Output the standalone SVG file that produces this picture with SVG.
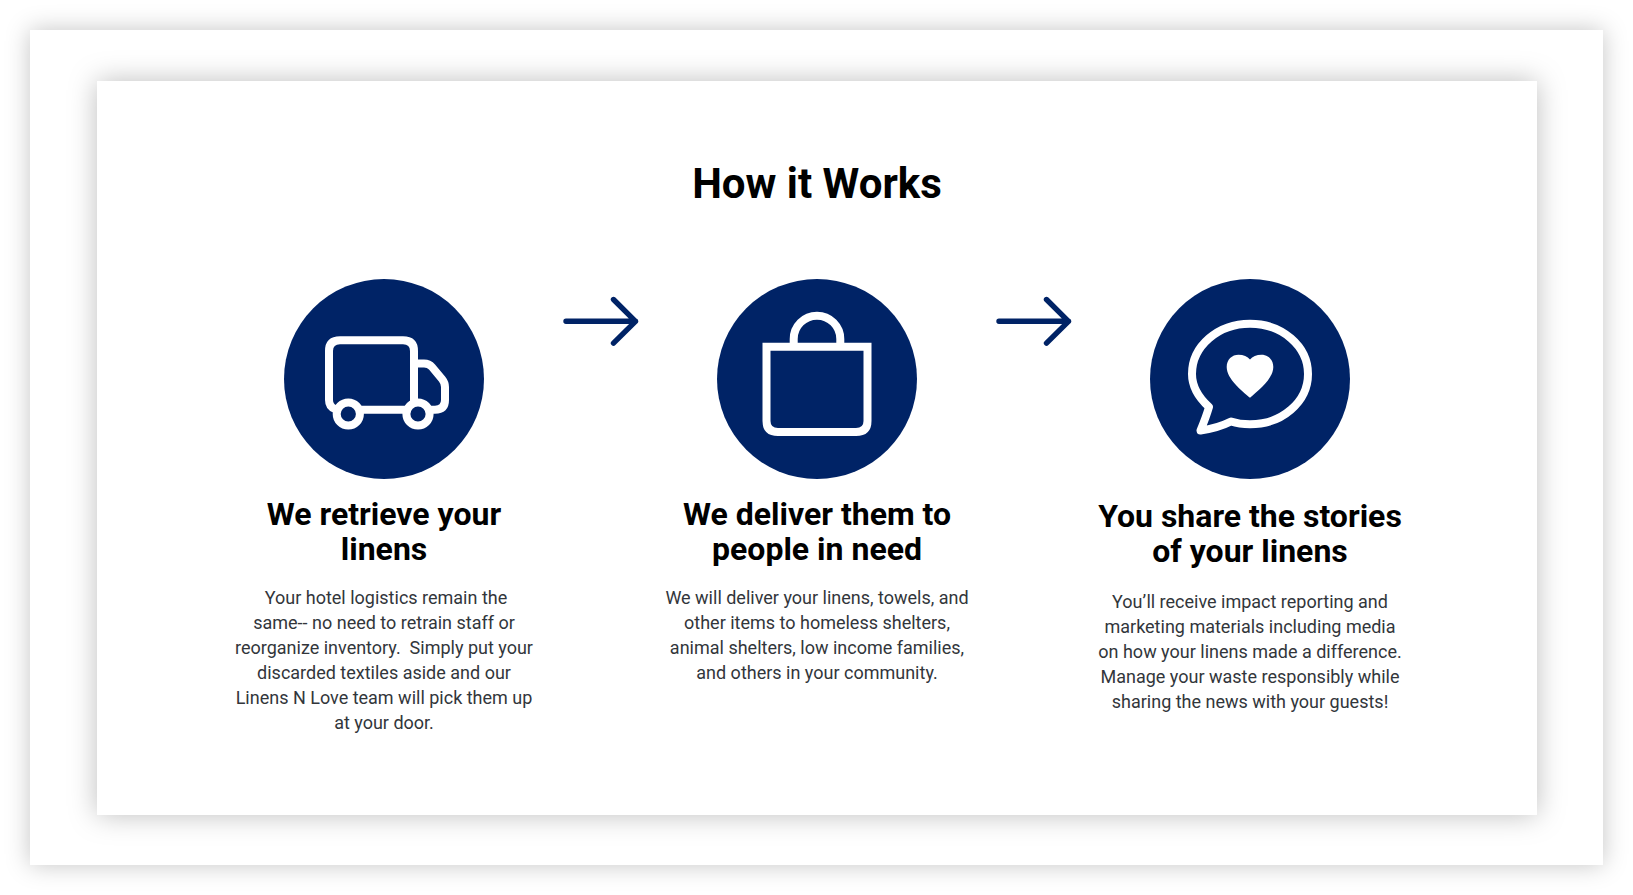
<svg xmlns="http://www.w3.org/2000/svg" width="1633" height="895" viewBox="0 0 1633 895">
<defs>
<filter id="sh" x="-10%" y="-15%" width="120%" height="130%"><feDropShadow dx="0" dy="0" stdDeviation="12" flood-color="#000" flood-opacity="0.23"/></filter>
<filter id="sh2" x="-10%" y="-15%" width="120%" height="130%"><feDropShadow dx="0" dy="0" stdDeviation="14" flood-color="#000" flood-opacity="0.26"/></filter>
</defs>
<style>
text{font-family:Roboto,"Liberation Sans",sans-serif;text-anchor:middle;white-space:pre}
.t{font-size:42px;font-weight:700;fill:#000}
.h{font-size:32px;font-weight:700;fill:#000}
.b{font-size:18px;fill:#32363b}
.c{fill:#002366}
.i{fill:none;stroke:#fff;stroke-width:8;stroke-linejoin:round;stroke-linecap:round}
.m{stroke-linejoin:miter;stroke-linecap:butt}
.a{fill:none;stroke:#002366;stroke-width:5.4;stroke-linejoin:round;stroke-linecap:round}
</style>
<rect width="1633" height="895" fill="#fff"/>
<rect x="30" y="30" width="1573" height="835" fill="#fff" filter="url(#sh)"/>
<rect x="97" y="81" width="1440" height="734" fill="#fff" filter="url(#sh2)"/>
<text class="t" x="817" y="198">How it Works</text>
<g id="step1">
<circle class="c" cx="384" cy="379" r="100"/>
<path class="i" d="M335 409C331 407.500 329 404 329 400V351Q329 340.300 340 340.300H403Q414 340.300 414 351V402"/>
<path class="i" d="M414 363.500H424Q429 363.500 432 367L442 379Q445 382.700 445 387V400Q445 409.700 435 409.700H430M407 409.700H360"/>
<circle class="i" cx="348.300" cy="414" r="11.600"/>
<circle class="i" cx="418" cy="414" r="11.600"/>
<text class="h"><tspan x="384" y="525">We retrieve your</tspan><tspan x="384" y="560">linens</tspan></text>
<text class="b"><tspan x="386" y="604">Your hotel logistics remain the</tspan><tspan x="384" y="629">same-- no need to retrain staff or</tspan><tspan x="384" y="654">reorganize inventory.  Simply put your</tspan><tspan x="384" y="679">discarded textiles aside and our</tspan><tspan x="384" y="704">Linens N Love team will pick them up</tspan><tspan x="384" y="729">at your door.</tspan></text>
</g>
<g id="step2">
<circle class="c" cx="817" cy="379" r="100"/>
<path class="i m" d="M766.500 346.700H867.500V421Q867.500 432 856 432H778Q766.500 432 766.500 421Z"/>
<path class="i m" d="M793.700 343V339A23.300 23.300 0 0 1 840.300 339V343"/>
<text class="h"><tspan x="817" y="525">We deliver them to</tspan><tspan x="817" y="560">people in need</tspan></text>
<text class="b"><tspan x="817" y="604">We will deliver your linens, towels, and</tspan><tspan x="817" y="629">other items to homeless shelters,</tspan><tspan x="817" y="654">animal shelters, low income families,</tspan><tspan x="817" y="679">and others in your community.</tspan></text>
</g>
<g id="step3">
<circle class="c" cx="1250" cy="379" r="100"/>
<path class="i" d="M1209 407C1198 397 1192 387 1192 374C1192 346 1218 323.700 1250 323.700C1282 323.700 1308 346 1308 374C1308 402 1282 424.300 1250 424.300C1243 424.300 1237 423.500 1231 421.500C1222 426 1212 429 1200.500 430.500C1204 422 1207 414 1209 407Z"/>
<path d="M1250 397.700C1242 391 1226.700 379 1226.700 367C1226.700 359.500 1232 354.700 1238.500 354.700C1243.500 354.700 1247.500 356.500 1250 359.500C1252.500 356.500 1256.500 354.700 1261.500 354.700C1268 354.700 1273.300 359.500 1273.300 367C1273.300 379 1258 391 1250 397.700Z" fill="#fff"/>
<text class="h"><tspan x="1250" y="527">You share the stories</tspan><tspan x="1250" y="562">of your linens</tspan></text>
<text class="b"><tspan x="1250" y="608">You’ll receive impact reporting and</tspan><tspan x="1250" y="633">marketing materials including media</tspan><tspan x="1250" y="658">on how your linens made a difference.</tspan><tspan x="1250" y="683">Manage your waste responsibly while</tspan><tspan x="1250" y="708">sharing the news with your guests!</tspan></text>
</g>
<g id="connectors">
<path class="a" d="M566 321.300H635.500M613.500 299.500L635.500 321.300L613.500 343.100"/>
<path class="a" d="M999 321.300H1068.500M1046.500 299.500L1068.500 321.300L1046.500 343.100"/>
</g>
</svg>
